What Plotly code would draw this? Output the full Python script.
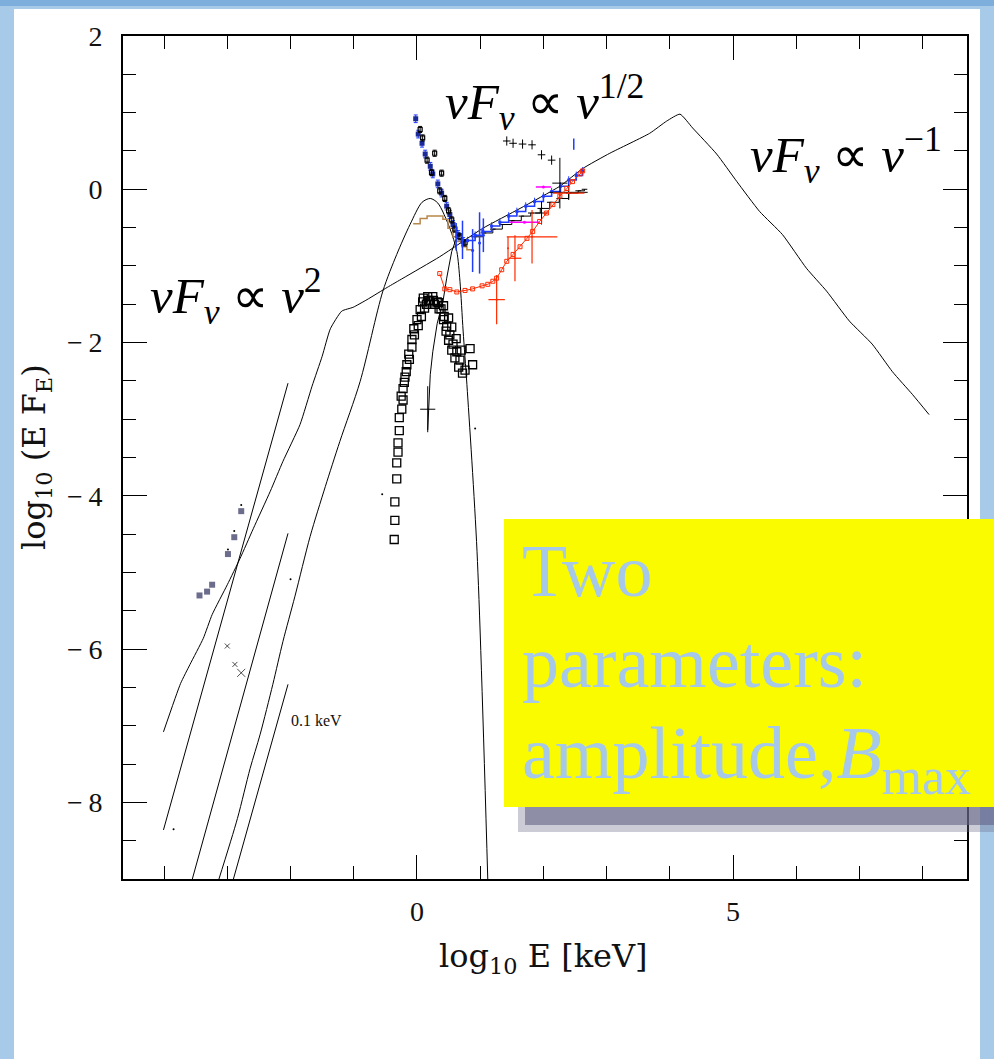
import plotly.graph_objects as go

# ---------------- data (log10 E [keV], log10 E F_E) ----------------
# broad model curve (nu^2 -> nu^1/2 -> nu^-1)
model_x = [-4.01, -3.74, -3.59, -3.38, -3.24, -3.00, -2.80, -2.59, -2.32, -2.12, -1.85, -1.66, -1.50,
           -1.37, -1.19, -1.01, -0.79, -0.47, -0.22, 0.36, 1.04, 1.63, 2.26, 2.62, 3.05, 3.68, 3.95,
           4.16, 4.36, 4.74, 5.06, 5.42, 5.78, 6.16, 6.48, 6.84, 7.20, 7.52, 7.84, 8.10]
model_y = [-7.08, -6.45, -6.20, -5.86, -5.55, -5.16, -4.82, -4.43, -3.94, -3.55, -3.07, -2.57, -2.18,
           -1.82, -1.59, -1.54, -1.44, -1.28, -1.16, -0.88, -0.51, -0.25, 0.04, 0.27, 0.47, 0.73, 0.89,
           0.98, 0.80, 0.46, 0.10, -0.29, -0.59, -1.03, -1.33, -1.72, -2.02, -2.38, -2.68, -2.94]

# thermal-like bump curve
bump_x = [-3.14, -2.84, -2.64, -2.48, -2.28, -2.12, -1.93, -1.69, -1.45, -1.22, -0.90, -0.54, -0.32,
          -0.11, 0.08, 0.21, 0.33, 0.52, 0.63, 0.68, 0.73, 0.79, 0.95, 1.12]
bump_y = [-9.02, -8.21, -7.56, -7.11, -6.46, -5.90, -5.31, -4.53, -3.88, -3.29, -2.51, -1.33, -0.85,
          -0.46, -0.17, -0.12, -0.18, -0.51, -0.81, -1.20, -1.85, -2.55, -4.73, -9.01]

# three short power-law segments
seg1_x, seg1_y = [-4.01, -2.04], [-8.36, -2.53]
seg2_x, seg2_y = [-3.56, -2.04], [-9.02, -4.49]
seg3_x, seg3_y = [-2.91, -2.04], [-9.02, -6.46]

# radio/IR points
ir_x = [-3.44, -3.32, -3.24, -2.99, -2.89, -2.78]
ir_y = [-5.30, -5.25, -5.16, -4.76, -4.54, -4.20]
xm_x = [-3.00, -2.88, -2.78]
xm_y = [-5.96, -6.20, -6.31]

# optical/UV open squares
sq_x = [-0.36, -0.35, -0.35, -0.32, -0.32, -0.30, -0.30, -0.28, -0.28, -0.24, -0.22, -0.22, -0.19, -0.16,
        -0.13, -0.08, -0.05, 0.00, 0.05, 0.09, 0.17, 0.25, 0.32, 0.38, 0.43, 0.47, 0.52, 0.57, 0.63,
        0.68, 0.76, 0.84, 0.88,
        -0.25, -0.20, -0.17, -0.12, -0.08, -0.04, 0.02, 0.07, 0.12, 0.15, 0.20, 0.28, 0.35, 0.42, 0.46,
        0.50, 0.55, 0.60, 0.66, 0.72, 0.70, 0.62, 0.55, 0.50, 0.42, 0.10, 0.18, 0.26, 0.34]
sq_y = [-4.57, -4.32, -4.08, -3.78, -3.57, -3.43, -3.31, -3.15, -2.98, -2.87, -2.75, -2.60, -2.45, -2.29,
        -2.15, -1.96, -1.82, -1.70, -1.57, -1.47, -1.40, -1.40, -1.47, -1.56, -1.66, -1.79, -1.90, -2.02,
        -2.12, -2.23, -2.36, -2.08, -2.29,
        -2.70, -2.52, -2.38, -2.22, -2.06, -1.90, -1.78, -1.66, -1.55, -1.50, -1.47, -1.50, -1.56, -1.70,
        -1.85, -1.97, -2.10, -2.20, -2.32, -2.40, -2.10, -1.95, -1.80, -1.68, -1.52, -1.42, -1.45, -1.45,
        -1.48]

# thin black line through the bump
thin_x = [0.17, 0.21, 0.25, 0.32, 0.41, 0.47, 0.55, 0.62]
thin_y = [-3.14, -2.42, -2.12, -1.75, -1.47, -1.16, -0.81, -0.65]
cross_x, cross_y = [0.17], [-2.87]

# soft X-ray (blue) steep part
blue_d_x = [-0.02, 0.02, 0.08, 0.13, 0.21, 0.25, 0.33, 0.39, 0.47, 0.52, 0.57, 0.65, 0.73]
blue_d_y = [0.92, 0.72, 0.60, 0.46, 0.30, 0.20, 0.07, -0.05, -0.22, -0.33, -0.46, -0.59, -0.68]
blk_d_x = [0.05, 0.09, 0.16, 0.23, 0.28, 0.36, 0.39, 0.44, 0.50, 0.55, 0.60, 0.68, 0.76]
blk_d_y = [0.78, 0.67, 0.38, 0.22, 0.47, -0.02, 0.21, -0.12, -0.28, -0.40, -0.52, -0.62, -0.70]

# X-ray (blue) rising part
blue_u_x = [0.80, 0.92, 1.04, 1.18, 1.31, 1.45, 1.58, 1.72, 1.86, 2.00, 2.13, 2.27, 2.40, 2.52, 2.62]
blue_u_y = [-0.67, -0.60, -0.55, -0.48, -0.43, -0.35, -0.29, -0.22, -0.16, -0.09, -0.03, 0.04, 0.12, 0.18, 0.24]
blue_err_x = [0.62, 0.72, 0.88, 0.99, 1.05]
blue_err_y = [-0.62, -0.66, -0.80, -0.70, -0.60]
blue_err_e = [0.18, 0.25, 0.28, 0.40, 0.22]
blue_lim_x, blue_lim_y = [2.48], [0.59]

# X-ray black steps
blk_u_x = [0.90, 1.05, 1.20, 1.35, 1.50, 1.65, 1.80, 1.95, 2.10, 2.25, 2.40, 2.55, 2.65]
blk_u_y = [-0.62, -0.57, -0.52, -0.46, -0.41, -0.35, -0.31, -0.25, -0.17, -0.12, -0.05, -0.02, 0.00]
blk_c_x = [1.42, 1.52, 1.67, 1.82, 1.97, 2.13]
blk_c_y = [0.63, 0.60, 0.59, 0.58, 0.45, 0.38]
blk_big_x = [2.26, 1.97, 2.40]
blk_big_y = [0.08, -0.31, -0.04]
blk_big_ey = [0.33, 0.15, 0.10]
blk_big_ex = [0.12, 0.10, 0.30]

# magenta points
mag_x, mag_y, mag_ex = [2.00, 1.70], [0.03, -0.43], [0.12, 0.24]

# red series
red_x = [0.36, 0.44, 0.52, 0.63, 0.76, 0.88, 1.03, 1.12, 1.20, 1.26, 1.34, 1.42, 1.52, 1.63, 1.74,
         1.83, 1.94, 2.05, 2.15, 2.26, 2.37, 2.46, 2.58, 2.62]
red_y = [-1.10, -1.30, -1.31, -1.34, -1.32, -1.30, -1.26, -1.24, -1.20, -1.16, -1.05, -0.94, -0.85,
         -0.75, -0.64, -0.55, -0.42, -0.31, -0.20, -0.09, 0.01, 0.10, 0.20, 0.24]
red_big_x = [1.26, 1.55, 1.82, 1.44, 2.40]
red_big_y = [-1.44, -0.90, -0.62, -0.77, -0.05]
red_big_ey = [0.32, 0.30, 0.35, 0.15, 0.0]
red_big_ex = [0.13, 0.10, 0.40, 0.0, 0.25]

# brown step model
brown_x = [-0.06, 0.05, 0.16, 0.33, 0.41, 0.49, 0.57, 0.63, 0.71, 0.79, 0.88]
brown_y = [-0.45, -0.38, -0.35, -0.35, -0.39, -0.51, -0.62, -0.68, -0.75, -0.79, -0.81]

# stray dots
dot_x = [-0.55, 0.92, -2.00, -3.85, -2.99, -2.89, -2.78]
dot_y = [-3.98, -3.12, -5.09, -8.35, -4.70, -4.46, -4.12]

# ---------------- figure ----------------
W, H = 994, 1059
L, R, T, B = 123, 27, 36, 180


def xp(px):
    return (px - L) / (W - L - R)


def yp(py):
    return (H - B - py) / (H - T - B)


fig = go.Figure()
BLK = "black"
RED = "#ff2a00"
BLUE = "#1f3cff"

ln = dict(color=BLK, width=1)
fig.add_trace(go.Scatter(x=model_x, y=model_y, mode="lines", line=dict(color=BLK, width=1, shape="spline", smoothing=0.5)))
fig.add_trace(go.Scatter(x=bump_x, y=bump_y, mode="lines", line=dict(color=BLK, width=1, shape="spline", smoothing=0.8)))
for sx, sy in [(seg1_x, seg1_y), (seg2_x, seg2_y), (seg3_x, seg3_y)]:
    fig.add_trace(go.Scatter(x=sx, y=sy, mode="lines", line=ln))

fig.add_trace(go.Scatter(x=ir_x, y=ir_y, mode="markers",
                         marker=dict(symbol="square", size=6, color="#6c6c8c")))
fig.add_trace(go.Scatter(x=xm_x, y=xm_y, mode="markers",
                         marker=dict(symbol="x-thin-open", size=[5, 5, 8], color=BLK, line=dict(color=BLK, width=1))))
fig.add_trace(go.Scatter(x=dot_x, y=dot_y, mode="markers",
                         marker=dict(symbol="circle", size=2, color=BLK)))

fig.add_trace(go.Scatter(x=sq_x, y=sq_y, mode="markers",
                         marker=dict(symbol="square-open", size=8, color=BLK, line=dict(color=BLK, width=1.3))))
fig.add_trace(go.Scatter(x=thin_x, y=thin_y, mode="lines", line=ln))
fig.add_trace(go.Scatter(x=cross_x, y=cross_y, mode="markers", marker=dict(size=1, color=BLK),
                         error_x=dict(array=[0.12], color=BLK, thickness=1, width=0),
                         error_y=dict(array=[0.30], color=BLK, thickness=1, width=0)))

fig.add_trace(go.Scatter(x=brown_x, y=brown_y, mode="lines", line=dict(color="#b8864b", width=1.5),
                         line_shape="hv"))

# blue & black soft X-ray
fig.add_trace(go.Scatter(x=blue_d_x, y=blue_d_y, mode="markers",
                         marker=dict(symbol="square", size=5, color="#1a2a9a"),
                         error_y=dict(array=[0.05] * len(blue_d_x), color=BLUE, thickness=1, width=2)))
fig.add_trace(go.Scatter(x=blk_d_x, y=blk_d_y, mode="markers",
                         marker=dict(symbol="square-open", size=4, color=BLK, line=dict(color=BLK, width=1.2)),
                         error_y=dict(array=[0.04] * len(blk_d_x), color=BLK, thickness=1, width=2)))
fig.add_trace(go.Scatter(x=blk_u_x, y=blk_u_y, mode="lines+markers", line=dict(color=BLK, width=1),
                         line_shape="hv", marker=dict(symbol="line-ew", size=4, color=BLK, line=dict(color=BLK, width=1))))
fig.add_trace(go.Scatter(x=blue_err_x, y=blue_err_y, mode="markers", marker=dict(size=3, color=BLUE),
                         error_y=dict(array=blue_err_e, color=BLUE, thickness=1.5, width=0)))
fig.add_trace(go.Scatter(x=blue_u_x, y=blue_u_y, mode="lines+markers", line=dict(color=BLUE, width=1.5),
                         line_shape="hv", marker=dict(symbol="square", size=3, color=BLUE),
                         error_y=dict(array=[0.05] * len(blue_u_x), color=BLUE, thickness=1, width=0)))
fig.add_trace(go.Scatter(x=blue_lim_x, y=blue_lim_y, mode="markers",
                         marker=dict(symbol="line-ns", size=8, color=BLUE, line=dict(color=BLUE, width=1.5))))
fig.add_trace(go.Scatter(x=mag_x, y=mag_y, mode="markers", marker=dict(size=3, color="#ff00ff"),
                         error_x=dict(array=mag_ex, color="#ff00ff", thickness=1.5, width=0)))
fig.add_trace(go.Scatter(x=blk_c_x, y=blk_c_y, mode="markers", marker=dict(size=1, color=BLK),
                         error_x=dict(array=[0.06] * 6, color=BLK, thickness=1, width=0),
                         error_y=dict(array=[0.06] * 6, color=BLK, thickness=1, width=0)))
fig.add_trace(go.Scatter(x=blk_big_x, y=blk_big_y, mode="markers", marker=dict(size=1, color=BLK),
                         error_x=dict(array=blk_big_ex, color=BLK, thickness=1, width=0),
                         error_y=dict(array=blk_big_ey, color=BLK, thickness=1, width=0)))

fig.add_trace(go.Scatter(x=red_x, y=red_y, mode="lines+markers", line=dict(color=RED, width=1),
                         marker=dict(symbol="square-open", size=4, color=RED, line=dict(color=RED, width=1))))
fig.add_trace(go.Scatter(x=red_big_x, y=red_big_y, mode="markers", marker=dict(size=2, color=RED),
                         error_x=dict(array=red_big_ex, color=RED, thickness=1.2, width=0),
                         error_y=dict(array=red_big_ey, color=RED, thickness=1.2, width=0)))

tickfont = dict(family="Liberation Serif", size=28, color="#111")
fig.update_xaxes(range=[-4.65, 8.70], tickmode="array", tickvals=[0, 5], ticktext=["0", "5"],
                 ticks="inside", ticklen=24, tickwidth=1.2, tickcolor=BLK,
                 minor=dict(dtick=1, tick0=0, ticks="inside", ticklen=13, tickwidth=1, tickcolor=BLK),
                 showline=True, linewidth=2, linecolor=BLK, mirror="ticks",
                 showgrid=False, zeroline=False, tickfont=tickfont, ticklabelstandoff=6)
fig.update_yaxes(range=[-9, 2], tickmode="array", tickvals=[2, 0, -2, -4, -6, -8],
                 ticktext=["2", "0", "\u2212\u20092", "\u2212\u20094", "\u2212\u20096", "\u2212\u20098"],
                 ticks="inside", ticklen=24, tickwidth=1.2, tickcolor=BLK,
                 minor=dict(dtick=0.5, tick0=0, ticks="inside", ticklen=13, tickwidth=1, tickcolor=BLK),
                 showline=True, linewidth=2, linecolor=BLK, mirror="ticks",
                 showgrid=False, zeroline=False, tickfont=tickfont, ticklabelstandoff=13)

shapes = [
    dict(type="rect", xref="paper", yref="paper", x0=xp(14), x1=xp(980), y0=yp(1060), y1=yp(9),
         fillcolor="white", line=dict(width=0), layer="below"),
    dict(type="rect", xref="paper", yref="paper", x0=xp(-2), x1=xp(996), y0=yp(6), y1=yp(-2),
         fillcolor="#7eaedb", line=dict(width=0), layer="below"),
    dict(type="rect", xref="paper", yref="paper", x0=xp(518), x1=xp(998), y0=yp(832), y1=yp(807),
         fillcolor="rgba(110,110,140,0.35)", line=dict(width=0), layer="above"),
    dict(type="rect", xref="paper", yref="paper", x0=xp(525), x1=xp(998), y0=yp(825), y1=yp(807),
         fillcolor="rgba(100,100,135,0.6)", line=dict(width=0), layer="above"),
    dict(type="rect", xref="paper", yref="paper", x0=xp(504), x1=xp(998), y0=yp(807), y1=yp(519),
         fillcolor="#fbfb00", line=dict(width=0), layer="above"),
]

serif = "Liberation Serif"
big = dict(family=serif, size=51, color="black")
hersh = dict(family="DejaVu Serif", size=32, color="#111")
box = dict(family=serif, size=74, color="#a6c9e9")


def ann(text, x, y, font, xa="left", ya="middle", angle=0):
    return dict(text=text, xref="paper", yref="paper", x=xp(x), y=yp(y), xanchor=xa, yanchor=ya,
                showarrow=False, font=font, textangle=angle)


annotations = [
    ann("<i>\u03bdF</i><sub><i>\u03bd</i></sub> \u221d <i>\u03bd</i><sup>1/2</sup>", 443, 102, big),
    ann("<i>\u03bdF</i><sub><i>\u03bd</i></sub> \u221d <i>\u03bd</i><sup>\u22121</sup>", 748, 155, big),
    ann("<i>\u03bdF</i><sub><i>\u03bd</i></sub> \u221d <i>\u03bd</i><sup>2</sup>", 148, 296, big),
    ann("0.1 keV", 289, 720, dict(family=serif, size=16, color="#111")),
    ann("log<sub>10</sub> E [keV]", 543, 958, hersh, xa="center"),
    ann("log<sub>10</sub> (E F<sub>E</sub>)", 36, 457, hersh, xa="center", angle=-90),
    ann("Two", 520, 571, box),
    ann("parameters:", 520, 662, box),
    ann("amplitude,<i>B</i><sub>max</sub>", 520, 758, box),
]

fig.update_layout(width=W, height=H, margin=dict(l=L, r=R, t=T, b=B), showlegend=False,
                  paper_bgcolor="#a6cae8", plot_bgcolor="white", shapes=shapes, annotations=annotations)

fig.write_html("out.html")
